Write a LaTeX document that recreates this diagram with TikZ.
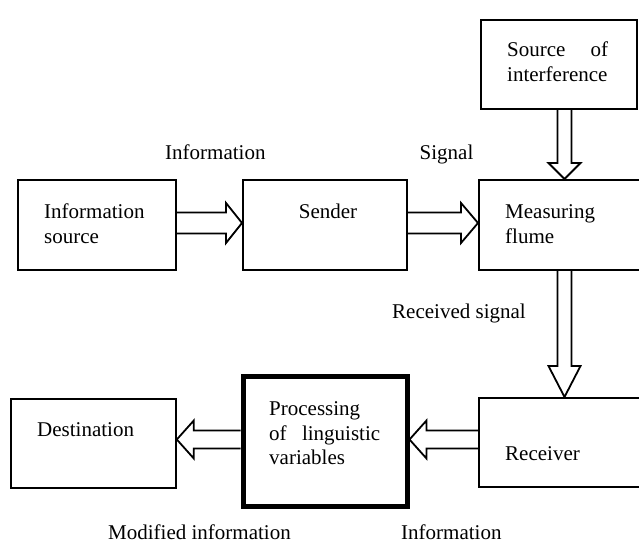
\documentclass[tikz,border=0pt]{standalone}
\usepackage{fontspec}
\setmainfont{Liberation Serif}
\usetikzlibrary{calc}
\tikzset{
  box/.style={draw, line width=1.8pt, inner sep=0pt, anchor=north west},
  thickbox/.style={draw, line width=5pt, inner sep=0pt, anchor=north west},
  fat/.style={draw, line width=1.8pt, line join=miter},
  txt/.style={inner sep=0pt, anchor=base west, font=\fontsize{21}{24.5}\selectfont},
  mtxt/.style={txt, align=left},
}
% right-pointing fat arrow: from, to, Y, shaft half, head half, head length
\newcommand\rfatarrow[6]{\draw[fat] let \p1=(#1.east), \p2=(#2.west) in
  (\x1,{#3+#4}) -- ({\x2-#6},{#3+#4}) -- ({\x2-#6},{#3+#5}) -- (\x2,#3)
  -- ({\x2-#6},{#3-#5}) -- ({\x2-#6},{#3-#4}) -- (\x1,{#3-#4});}
% left-pointing fat arrow: from (right node), to (left node), Y, shaft half, head half, head length
\newcommand\lfatarrow[6]{\draw[fat] let \p1=(#1.west), \p2=(#2.east) in
  (\x1,{#3+#4}) -- ({\x2+#6},{#3+#4}) -- ({\x2+#6},{#3+#5}) -- (\x2,#3)
  -- ({\x2+#6},{#3-#5}) -- ({\x2+#6},{#3-#4}) -- (\x1,{#3-#4});}
% downward fat arrow: from, to, X, shaft half, head half, head length
\newcommand\dfatarrow[6]{\draw[fat] let \p1=(#1.south), \p2=(#2.north) in
  ({#3-#4},\y1) -- ({#3-#4},{\y2+#6}) -- ({#3-#5},{\y2+#6}) -- (#3,\y2)
  -- ({#3+#5},{\y2+#6}) -- ({#3+#4},{\y2+#6}) -- ({#3+#4},\y1);}
\begin{document}
\begin{tikzpicture}[x=1pt,y=1pt]
\useasboundingbox (0,0) rectangle (639,545);
\clip (0,0) rectangle (639,545);

% boxes
\node[box, minimum width=156pt, minimum height=89pt] (src) at (480,526) {};
\node[box, minimum width=158pt, minimum height=90pt] (info) at (17,366) {};
\node[box, minimum width=164pt, minimum height=90pt] (sender) at (242,366) {};
\node[box, minimum width=180pt, minimum height=90pt] (flume) at (478,366) {};
\node[box, minimum width=165pt, minimum height=89pt] (dest) at (10,147) {};
\node[thickbox, minimum width=164pt, minimum height=130pt] (proc) at (240.5,170.5) {};
\node[box, minimum width=180pt, minimum height=89pt] (recv) at (478,148) {};

% texts inside boxes
\node[mtxt, text width=101pt] (tsrc) at (507,488) {Source\hfill of\\interference};
\node[mtxt, text width=120pt] (tinfo) at (44,326) {Information\\source};
\node[txt, anchor=base] (tsender) at (328,326) {Sender};
\node[mtxt, text width=120pt] (tflume) at (505,326) {Measuring\\flume};
\node[txt] (tdest) at (37,108) {Destination};
\node[mtxt, text width=111pt] (tproc) at (269,129) {Processing\\of\hfill linguistic\\variables};
\node[txt] (trecv) at (505,84) {Receiver};

% connector labels
\node[txt] (linfo) at (165,385) {Information};
\node[txt] (lsignal) at (419.5,385) {Signal};
\node[txt] (lrec) at (392,226) {Received signal};
\node[txt] (lmod) at (108,5) {Modified information};
\node[txt] (linfo2) at (401,5) {Information};

% fat arrows
\rfatarrow{info}{sender}{322}{10.5}{20}{16}
\rfatarrow{sender}{flume}{322}{10.5}{20}{17}
\dfatarrow{src}{flume}{564.5}{7}{16}{16}
\dfatarrow{flume}{recv}{564.5}{7}{16}{31}
\lfatarrow{recv}{proc}{105.5}{9}{19}{17}
\lfatarrow{proc}{dest}{105.5}{9}{19}{17}
\end{tikzpicture}
\end{document}
